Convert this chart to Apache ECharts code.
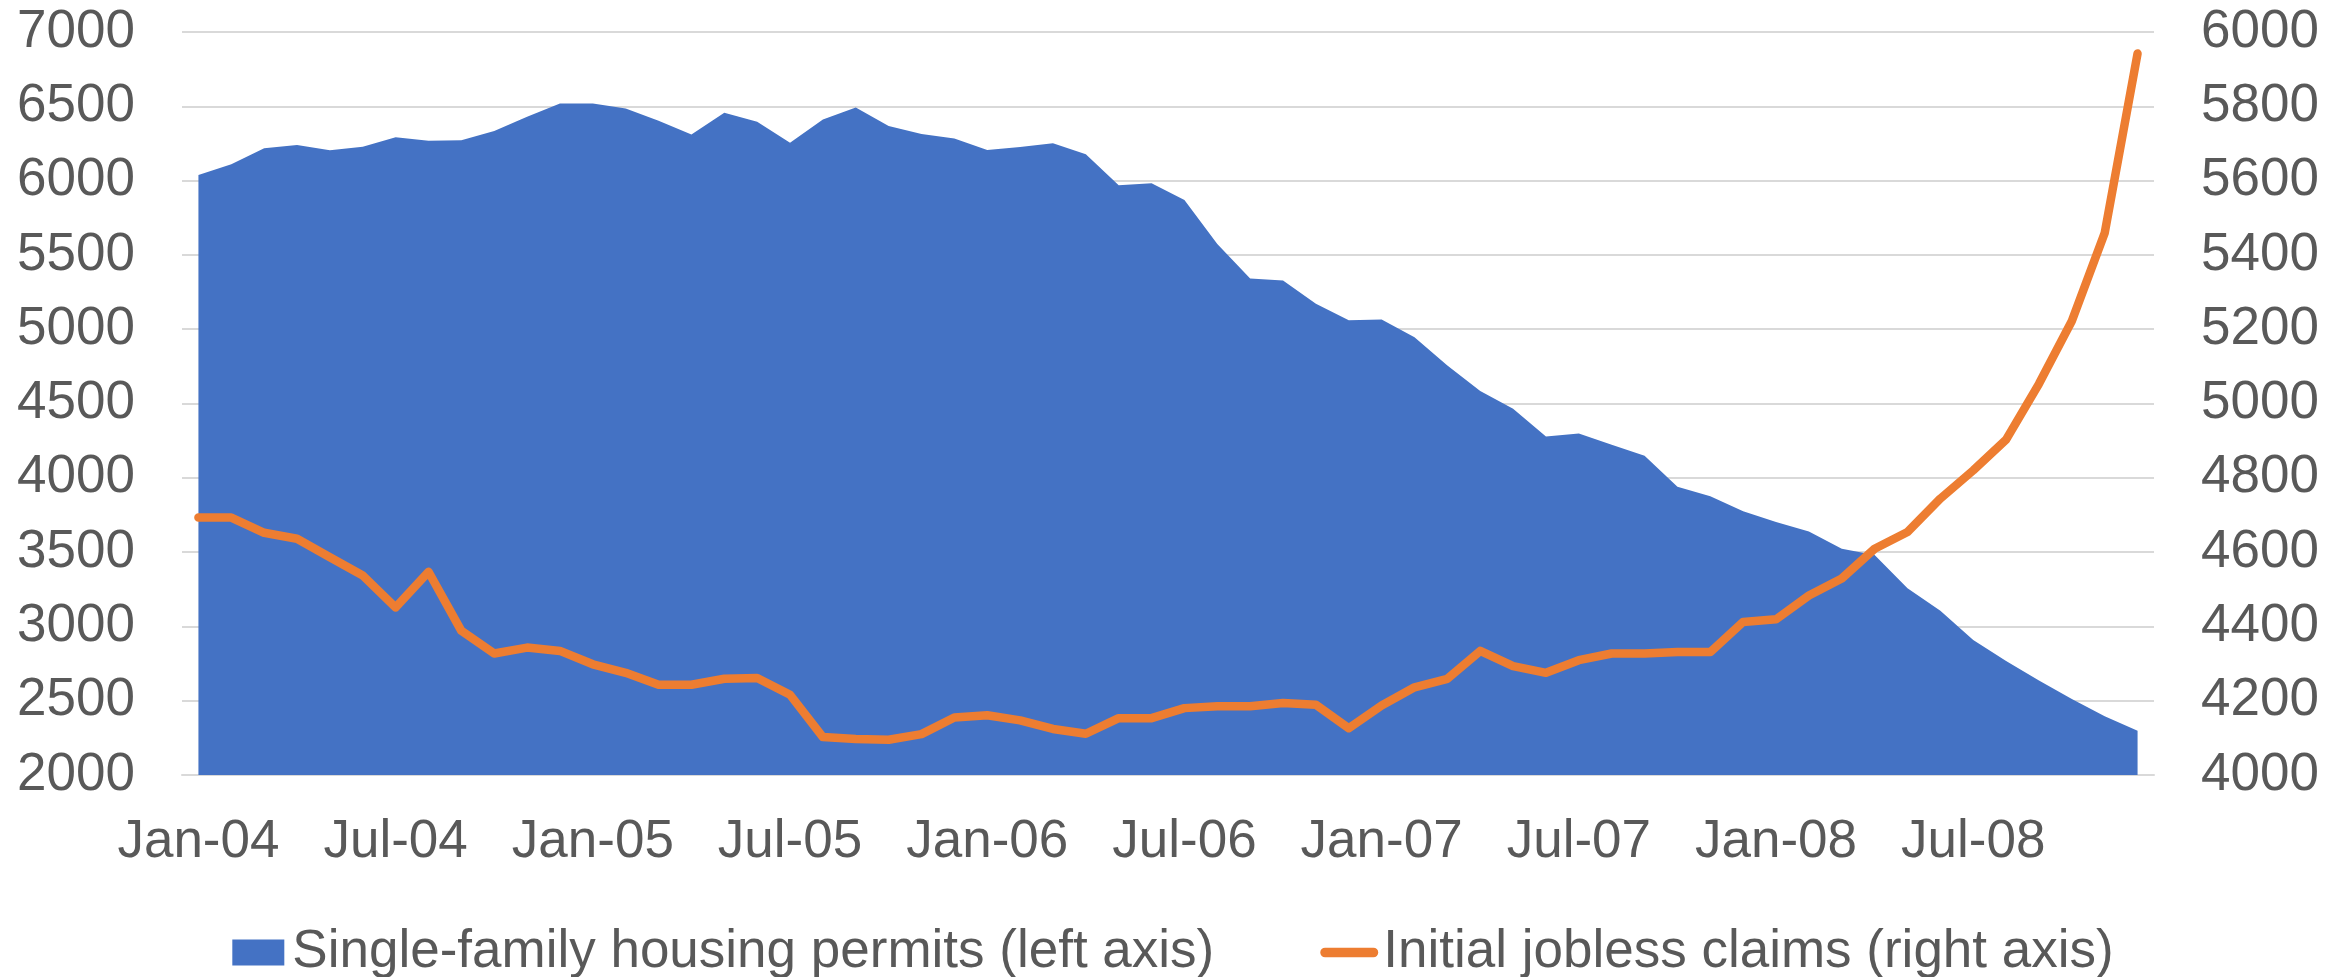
<!DOCTYPE html>
<html>
<head>
<meta charset="utf-8">
<title>Housing permits vs jobless claims</title>
<script src="https://cdn.jsdelivr.net/npm/echarts@6/dist/echarts.min.js"></script>
<style>
  html, body { margin: 0; padding: 0; background: #fff; }
  #chart { width: 2346px; height: 977px; }
</style>
</head>
<body>
<div id="chart"></div>
<script>
// monthly categories Jan-04 .. Dec-08
const categories = [
  'Jan-04', 'Feb-04', 'Mar-04', 'Apr-04', 'May-04', 'Jun-04', 'Jul-04', 'Aug-04', 'Sep-04', 'Oct-04', 'Nov-04', 'Dec-04',
  'Jan-05', 'Feb-05', 'Mar-05', 'Apr-05', 'May-05', 'Jun-05', 'Jul-05', 'Aug-05', 'Sep-05', 'Oct-05', 'Nov-05', 'Dec-05',
  'Jan-06', 'Feb-06', 'Mar-06', 'Apr-06', 'May-06', 'Jun-06', 'Jul-06', 'Aug-06', 'Sep-06', 'Oct-06', 'Nov-06', 'Dec-06',
  'Jan-07', 'Feb-07', 'Mar-07', 'Apr-07', 'May-07', 'Jun-07', 'Jul-07', 'Aug-07', 'Sep-07', 'Oct-07', 'Nov-07', 'Dec-07',
  'Jan-08', 'Feb-08', 'Mar-08', 'Apr-08', 'May-08', 'Jun-08', 'Jul-08', 'Aug-08', 'Sep-08', 'Oct-08', 'Nov-08', 'Dec-08'
]

// single-family housing permits (left axis)
const permits = [
  6038, 6110, 6217, 6239, 6204, 6228, 6291, 6269, 6271, 6333, 6430, 6519,
  6519, 6485, 6403, 6311, 6456, 6396, 6255, 6412, 6492, 6367, 6313, 6284,
  6206, 6226, 6251, 6177, 5969, 5982, 5870, 5573, 5342, 5327, 5172, 5061,
  5065, 4946, 4756, 4584, 4465, 4278, 4298, 4222, 4148, 3940, 3876, 3775,
  3702, 3639, 3522, 3481, 3256, 3105, 2909, 2767, 2636, 2512, 2395, 2298
]

// initial jobless claims (right axis)
const claims = [
  4693, 4693, 4652, 4636, 4586, 4537, 4451, 4547, 4388, 4327, 4343, 4334,
  4298, 4275, 4243, 4243, 4259, 4261, 4216, 4102, 4097, 4095, 4110, 4155,
  4161, 4147, 4124, 4111, 4153, 4153, 4180, 4185, 4185, 4194, 4189, 4126,
  4187, 4236, 4259, 4334, 4293, 4275, 4309, 4327, 4327, 4331, 4331, 4412,
  4419, 4483, 4529, 4609, 4654, 4744, 4820, 4903, 5053, 5222, 5459, 5942
]

const seriesNames = ['Single-family housing permits (left axis)', 'Initial jobless claims (right axis)']

const font = 'Liberation Sans, Arial, sans-serif'
const labelColor = '#595959'
const gridColor = '#d9d9d9'
const blue = '#4472C4'
const orange = '#ED7D31'

const chart = echarts.init(document.getElementById('chart'))

chart.setOption({
  animation: false,
  grid: { left: 182, right: 192, top: 32, bottom: 202 },
  legend: {
    top: 921,
    left: 'center',
    itemWidth: 58,
    itemHeight: 26,
    itemGap: 106,
    symbolKeepAspect: true,
    textStyle: { fontSize: 53, color: labelColor, fontFamily: font },
    data: [
      // square swatch for the area, rounded bar for the line (no dot)
      { name: seriesNames[0], icon: 'path://M0,0h52v26h-52z', itemStyle: { color: blue, borderWidth: 0 } },
      { name: seriesNames[1], icon: 'path://M5,0h50a5,5 0 0 1 0,10h-50a5,5 0 0 1 0,-10z', itemStyle: { color: orange, borderWidth: 0 } }
    ]
  },
  xAxis: {
    type: 'category',
    data: categories,
    boundaryGap: true,
    axisLine: { lineStyle: { color: gridColor, width: 2 } },
    axisTick: { show: false },
    axisLabel: {
      interval: 5,
      margin: 41,
      fontSize: 53,
      color: labelColor,
      fontFamily: font
    }
  },
  yAxis: [
    {
      type: 'value',
      min: 2000,
      max: 7000,
      interval: 500,
      axisLine: { show: false },
      axisTick: { show: false },
      axisLabel: { margin: 47, fontSize: 53, color: labelColor, fontFamily: font, formatter: v => String(v) },
      splitLine: { lineStyle: { color: gridColor, width: 2 } }
    },
    {
      type: 'value',
      position: 'right',
      min: 4000,
      max: 6000,
      interval: 200,
      axisLine: { show: false },
      axisTick: { show: false },
      axisLabel: { margin: 47, fontSize: 53, color: labelColor, fontFamily: font, formatter: v => String(v) },
      splitLine: { show: false }
    }
  ],
  series: [
    {
      name: seriesNames[0],
      type: 'line',
      data: permits,
      symbol: 'none',
      itemStyle: { color: blue },
      lineStyle: { width: 0 },
      areaStyle: { color: blue, opacity: 1 },
      z: 2
    },
    {
      name: seriesNames[1],
      type: 'line',
      yAxisIndex: 1,
      data: claims,
      symbol: 'none',
      itemStyle: { color: orange },
      lineStyle: { width: 8.5, color: orange, cap: 'round', join: 'round' },
      z: 3
    }
  ]
})
</script>
</body>
</html>
